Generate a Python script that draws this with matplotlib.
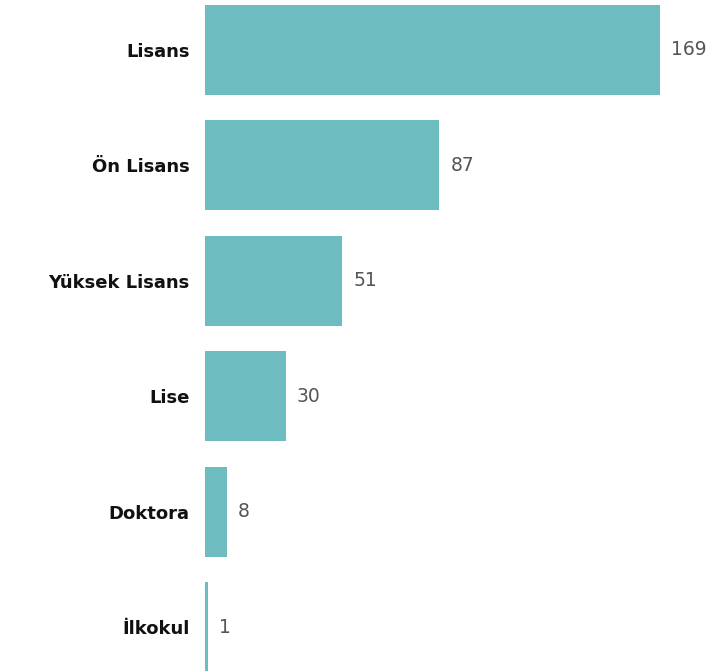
import matplotlib
matplotlib.use("Agg")
import matplotlib.pyplot as plt

categories = ["Lisans", "Ön Lisans", "Yüksek Lisans", "Lise", "Doktora", "İlkokul"]
counts = [169, 87, 51, 30, 8, 1]

fig = plt.figure(figsize=(7.2, 6.71), dpi=100)
ax = fig.add_axes([205 / 720, 0, 515 / 720, 1])

pos = list(range(len(categories)))
ax.barh(pos, counts, height=0.78, color="#6cbcc0")

ax.set_xlim(0, 191.3)
ax.set_ylim(5.381, -0.433)

ax.set_yticks(pos)
ax.set_yticklabels(categories, fontsize=13, fontweight="bold", color="#111111")
ax.tick_params(axis="y", length=0, pad=11)
ax.set_xticks([])
for s in ax.spines.values():
    s.set_visible(False)

for p, c in zip(pos, counts):
    ax.annotate(str(c), (c, p), xytext=(8, 0), textcoords="offset points",
                va="center", ha="left", fontsize=13.5, color="#555555")

fig.savefig("out.png", dpi=100)
